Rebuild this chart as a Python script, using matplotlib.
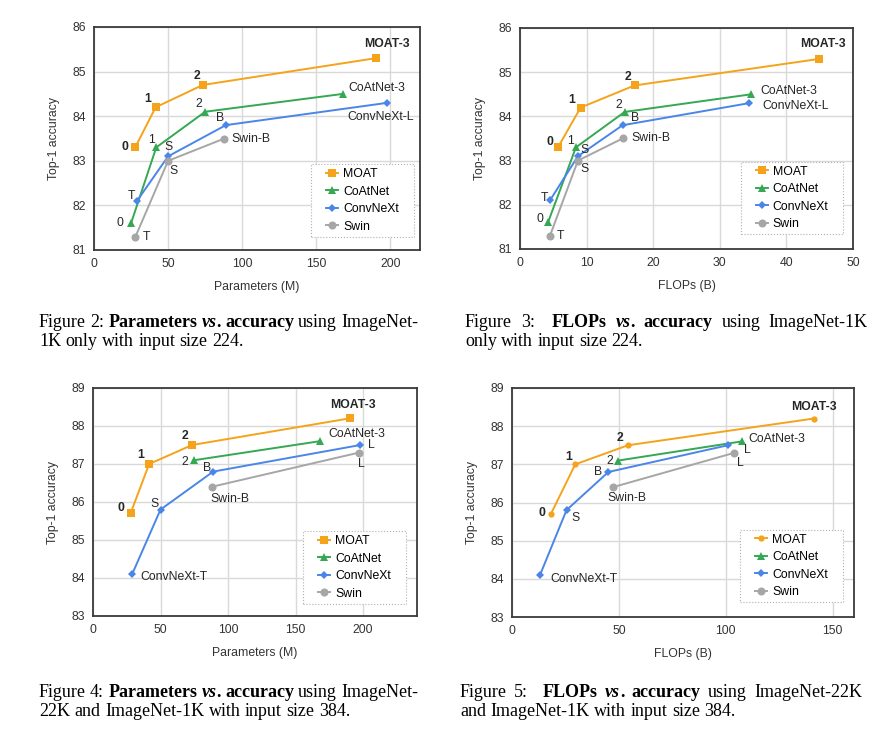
import re
import matplotlib
matplotlib.use('Agg')
import matplotlib.pyplot as plt
from matplotlib.patches import Rectangle

# ---- data -------------------------------------------------------------
series_names = ['MOAT', 'CoAtNet', 'ConvNeXt', 'Swin']

# Fig 2: params, ImageNet-1K, 224
f2_moat_x = [27.8, 41.6, 73.4, 190]
f2_moat_y = [83.3, 84.2, 84.7, 85.3]
f2_coat_x = [25, 42, 75, 168]
f2_coat_y = [81.6, 83.3, 84.1, 84.5]
f2_cnx_x = [29, 50, 89, 198]
f2_cnx_y = [82.1, 83.1, 83.8, 84.3]
f2_swin_x = [28, 50, 88]
f2_swin_y = [81.3, 83.0, 83.5]

# Fig 3: FLOPs, ImageNet-1K, 224
f3_moat_x = [5.7, 9.1, 17.2, 44.9]
f3_moat_y = [83.3, 84.2, 84.7, 85.3]
f3_coat_x = [4.2, 8.4, 15.7, 34.7]
f3_coat_y = [81.6, 83.3, 84.1, 84.5]
f3_cnx_x = [4.5, 8.7, 15.4, 34.4]
f3_cnx_y = [82.1, 83.1, 83.8, 84.3]
f3_swin_x = [4.5, 8.7, 15.4]
f3_swin_y = [81.3, 83.0, 83.5]

# Fig 4: params, ImageNet-22K + 1K, 384
f4_moat_x = [27.8, 41.6, 73.4, 190]
f4_moat_y = [85.7, 87.0, 87.5, 88.2]
f4_coat_x = [75, 168]
f4_coat_y = [87.1, 87.6]
f4_cnx_x = [29, 50, 89, 198]
f4_cnx_y = [84.1, 85.8, 86.8, 87.5]
f4_swin_x = [88, 197]
f4_swin_y = [86.4, 87.3]

# Fig 5: FLOPs, ImageNet-22K + 1K, 384
f5_moat_x = [18.2, 29.6, 54.3, 141.2]
f5_moat_y = [85.7, 87.0, 87.5, 88.2]
f5_coat_x = [49.8, 107.4]
f5_coat_y = [87.1, 87.6]
f5_cnx_x = [13.1, 25.5, 45.1, 101]
f5_cnx_y = [84.1, 85.8, 86.8, 87.5]
f5_swin_x = [47.1, 103.9]
f5_swin_y = [86.4, 87.3]

# point labels
lbl_moat = ['0', '1', '2', 'MOAT-3']
lbl_coat_1k = ['0', '1', '2', 'CoAtNet-3']
lbl_cnx_1k = ['T', 'S', 'B', 'ConvNeXt-L']
lbl_swin_1k = ['T', 'S', 'Swin-B']
lbl_coat_22k = ['2', 'CoAtNet-3']
lbl_cnx_22k = ['ConvNeXt-T', 'S', 'B', 'L']
lbl_swin_22k = ['Swin-B', 'L']

captions = [
    [[('Figure 2: ', 'normal', 'normal'), ('Parameters ', 'bold', 'normal'), ('vs', 'bold', 'italic'),
      ('. accuracy', 'bold', 'normal'), (' using ImageNet-', 'normal', 'normal')],
     [('1K only with input size 224.', 'normal', 'normal')]],
    [[('Figure 3:  ', 'normal', 'normal'), ('FLOPs ', 'bold', 'normal'), ('vs', 'bold', 'italic'),
      ('. accuracy', 'bold', 'normal'), (' using ImageNet-1K', 'normal', 'normal')],
     [('only with input size 224.', 'normal', 'normal')]],
    [[('Figure 4: ', 'normal', 'normal'), ('Parameters ', 'bold', 'normal'), ('vs', 'bold', 'italic'),
      ('. accuracy', 'bold', 'normal'), (' using ImageNet-', 'normal', 'normal')],
     [('22K and ImageNet-1K with input size 384.', 'normal', 'normal')]],
    [[('Figure 5:  ', 'normal', 'normal'), ('FLOPs ', 'bold', 'normal'), ('vs', 'bold', 'italic'),
      ('. accuracy', 'bold', 'normal'), (' using ImageNet-22K', 'normal', 'normal')],
     [('and ImageNet-1K with input size 384.', 'normal', 'normal')]],
]

# ---- style --------------------------------------------------------------
W, H = 881, 742
FS = 8.8
plt.rcParams['font.family'] = ['Liberation Sans', 'DejaVu Sans']

colors = {'MOAT': '#f5a31a', 'CoAtNet': '#34a853', 'ConvNeXt': '#4a86e8', 'Swin': '#a6a6a6'}
markers = {'MOAT': 's', 'CoAtNet': '^', 'ConvNeXt': 'D', 'Swin': 'o'}
msizes = {'MOAT': 5.4, 'CoAtNet': 5.8, 'ConvNeXt': 4.0, 'Swin': 5.8}

# label offsets (pixels, dx, dy, ha) per point
off2 = {
    'MOAT': [(-10, 0, 'center'), (-8, 8, 'center'), (-6, 9, 'center'), (11, 14, 'center')],
    'CoAtNet': [(-11, 0, 'center'), (-5, 7, 'center'), (-6, 8, 'center'), (5, 6, 'left')],
    'ConvNeXt': [(-6, 5, 'center'), (0, 9, 'center'), (-6, 7, 'center'), (-7, -14, 'center')],
    'Swin': [(11, 0, 'center'), (5, -10, 'center'), (7, 0, 'left')],
}
off3 = {
    'MOAT': [(-8, 5, 'center'), (-9, 8, 'center'), (-7, 8, 'center'), (4, 15, 'center')],
    'CoAtNet': [(-8, 3, 'center'), (-5, 6, 'center'), (-6, 7, 'center'), (9, 3, 'left')],
    'ConvNeXt': [(-6, 2, 'center'), (7, 6, 'center'), (12, 7, 'center'), (13, -3, 'left')],
    'Swin': [(10, 0, 'center'), (7, -8, 'center'), (9, 0, 'left')],
}
off4 = {
    'MOAT': [(-10, 5, 'center'), (-8, 9, 'center'), (-7, 9, 'center'), (3, 13, 'center')],
    'CoAtNet': [(-9, -2, 'center'), (9, 7, 'left')],
    'ConvNeXt': [(8, -3, 'left'), (-6, 6, 'center'), (-6, 4, 'center'), (11, 0, 'center')],
    'Swin': [(18, -12, 'center'), (2, -11, 'center')],
}
off5 = {
    'MOAT': [(-9, 1, 'center'), (-7, 7, 'center'), (-8, 7, 'center'), (0, 12, 'center')],
    'CoAtNet': [(-9, 0, 'center'), (7, 2, 'left')],
    'ConvNeXt': [(10, -4, 'left'), (9, -8, 'center'), (-10, 0, 'center'), (19, -5, 'center')],
    'Swin': [(14, -11, 'center'), (6, -10, 'center')],
}

# legend box centre in pixels
panels = [
    dict(px=(94, 27, 420, 250), xlim=(0, 220), xticks=[0, 50, 100, 150, 200], ylim=(81, 86),
         xlabel='Parameters (M)', leg_c=(362.5, 200.5), offs=off2, moat_marker='s',
         data={'MOAT': (f2_moat_x, f2_moat_y, lbl_moat), 'CoAtNet': (f2_coat_x, f2_coat_y, lbl_coat_1k),
               'ConvNeXt': (f2_cnx_x, f2_cnx_y, lbl_cnx_1k), 'Swin': (f2_swin_x, f2_swin_y, lbl_swin_1k)}),
    dict(px=(520, 28, 853, 249), xlim=(0, 50), xticks=[0, 10, 20, 30, 40, 50], ylim=(81, 86),
         xlabel='FLOPs (B)', leg_c=(792, 198), offs=off3, moat_marker='s',
         data={'MOAT': (f3_moat_x, f3_moat_y, lbl_moat), 'CoAtNet': (f3_coat_x, f3_coat_y, lbl_coat_1k),
               'ConvNeXt': (f3_cnx_x, f3_cnx_y, lbl_cnx_1k), 'Swin': (f3_swin_x, f3_swin_y, lbl_swin_1k)}),
    dict(px=(93, 388, 417, 616), xlim=(0, 240), xticks=[0, 50, 100, 150, 200], ylim=(83, 89),
         xlabel='Parameters (M)', leg_c=(354.5, 567.5), offs=off4, moat_marker='s',
         data={'MOAT': (f4_moat_x, f4_moat_y, lbl_moat), 'CoAtNet': (f4_coat_x, f4_coat_y, lbl_coat_22k),
               'ConvNeXt': (f4_cnx_x, f4_cnx_y, lbl_cnx_22k), 'Swin': (f4_swin_x, f4_swin_y, lbl_swin_22k)}),
    dict(px=(512, 388, 854, 617), xlim=(0, 160), xticks=[0, 50, 100, 150], ylim=(83, 89),
         xlabel='FLOPs (B)', leg_c=(791.5, 566), offs=off5, moat_marker='o',
         data={'MOAT': (f5_moat_x, f5_moat_y, lbl_moat), 'CoAtNet': (f5_coat_x, f5_coat_y, lbl_coat_22k),
               'ConvNeXt': (f5_cnx_x, f5_cnx_y, lbl_cnx_22k), 'Swin': (f5_swin_x, f5_swin_y, lbl_swin_22k)}),
]

fig = plt.figure(figsize=(W / 100, H / 100), dpi=100)
renderer = fig.canvas.get_renderer()

for p in panels:
    l, t, r, b = p['px']
    ax = fig.add_axes([l / W, 1 - b / H, (r - l) / W, (b - t) / H])
    for name in series_names:
        xs, ys, lbls = p['data'][name]
        mk = p['moat_marker'] if name == 'MOAT' else markers[name]
        ms = msizes[name] if not (name == 'MOAT' and mk == 'o') else 4.5
        ax.plot(xs, ys, color=colors[name], lw=1.4, marker=mk, ms=ms, mew=0, label=name, zorder=3)
        for xv, yv, s, (dx, dy, ha) in zip(xs, ys, lbls, p['offs'][name]):
            ax.annotate(s, (xv, yv), xytext=(dx, dy), textcoords='offset pixels', ha=ha, va='center',
                        fontsize=FS, color='#262626', fontweight='bold' if name == 'MOAT' else 'normal',
                        zorder=4)
    ax.set_xlim(p['xlim'])
    ax.set_ylim(p['ylim'])
    ax.set_xticks(p['xticks'])
    ax.set_yticks(range(p['ylim'][0], p['ylim'][1] + 1))
    ax.grid(True, color='#d9d9d9', lw=1.0)
    ax.set_axisbelow(True)
    ax.tick_params(length=0, labelsize=FS, pad=6, labelcolor='#333333')
    for sp in ax.spines.values():
        sp.set_color('#3a3a3a')
        sp.set_linewidth(1.3)
    ax.set_xlabel(p['xlabel'], fontsize=FS, labelpad=8, color='#333333')
    ax.set_ylabel('Top-1 accuracy', fontsize=FS, labelpad=9, color='#333333')
    cx, cy = p['leg_c']
    leg = ax.legend(loc='center', bbox_to_anchor=(cx / W, 1 - cy / H), bbox_transform=fig.transFigure,
                    borderpad=0, borderaxespad=0, fontsize=FS, frameon=False, handlelength=1.0,
                    handletextpad=0.4, labelspacing=0.45)
    leg.set_zorder(6)
    # dotted box around the legend, wider at the sides like the original
    bb = leg.get_window_extent(renderer)
    padx, pady = 15, 4
    ax.add_patch(Rectangle(((bb.x0 - padx) / W, (bb.y0 - pady) / H), (bb.width + 2 * padx) / W,
                           (bb.height + 2 * pady) / H, transform=fig.transFigure, facecolor='white',
                           edgecolor='#b0b0b0', lw=0.8, ls=':', zorder=5, clip_on=False))

# ---- captions, pieced together with mixed weights, first line justified ----
CAP_FS = 13.0
cap_pos = [(39, 418, 327, 346), (465, 868, 327, 346), (39, 418, 697, 716), (460, 862, 697, 716)]


def text_width(s, weight, style):
    t1 = fig.text(0, 0, 'x' + s + 'x', family='Liberation Serif', fontsize=CAP_FS, weight=weight, style=style)
    t2 = fig.text(0, 0, 'xx', family='Liberation Serif', fontsize=CAP_FS, weight=weight, style=style)
    w = t1.get_window_extent(renderer).width - t2.get_window_extent(renderer).width
    t1.remove()
    t2.remove()
    return w


for (x0, x_right, y1, y2), lines in zip(cap_pos, captions):
    for i, (yy, pieces) in enumerate(zip((y1, y2), lines)):
        tokens = []
        for s, weight, style in pieces:
            for tok in re.split(r'( )', s):
                if tok:
                    tokens.append((tok, weight, style, text_width(tok, weight, style)))
        extra = 0
        if i == 0:
            natural = sum(tk[3] for tk in tokens)
            n_sp = sum(1 for tk in tokens if tk[0] == ' ')
            extra = max((x_right - x0 - natural) / max(n_sp, 1), -0.8)
        x = x0
        for tok, weight, style, w in tokens:
            if tok == ' ':
                x += w + extra
                continue
            fig.text(x / W, 1 - yy / H, tok, family='Liberation Serif', fontsize=CAP_FS, weight=weight,
                     style=style, va='baseline', ha='left', color='black')
            x += w

fig.savefig('out.png', dpi=100)
